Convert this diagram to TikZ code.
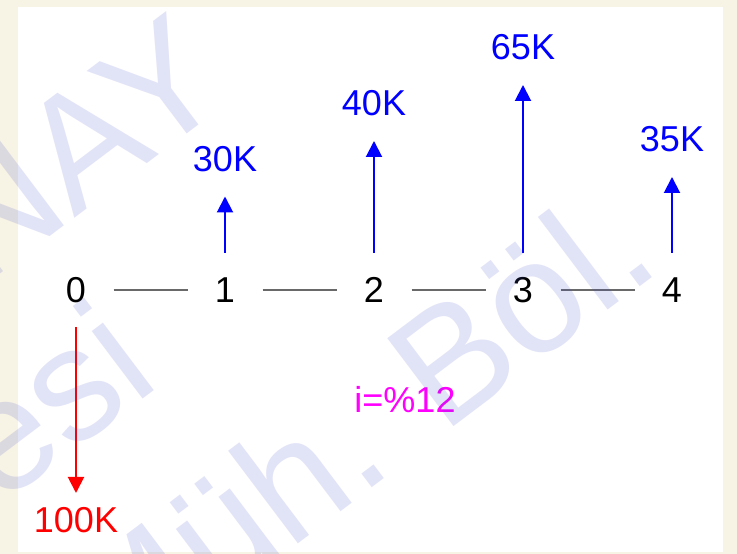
\documentclass[tikz,border=0pt]{standalone}
\usepackage{fontspec}
\setmainfont{Liberation Sans}
\usetikzlibrary{arrows.meta, positioning}
\definecolor{cream}{RGB}{247,243,229}
\definecolor{wmblue}{RGB}{60,70,200}
\definecolor{axisgray}{RGB}{105,105,105}
\definecolor{ratepink}{RGB}{255,0,255}
\begin{document}
\begin{tikzpicture}[x=1pt, y=1pt, node distance=149pt,
    tick/.style = {minimum width=75pt, minimum height=74pt, inner sep=0pt, outer sep=0pt, font=\fontsize{36}{40}\selectfont},
    cash/.style = {inner sep=0pt, outer sep=0pt, font=\fontsize{36}{40}\selectfont},
    inflow/.style = {draw=blue, line width=2pt, -{Triangle[width=16pt, length=16pt]}, shorten >=25pt},
    outflow/.style = {draw=red, line width=2pt, -{Triangle[width=16pt, length=16pt]}, shorten >=14.5pt},
    wmark/.style = {inner sep=0pt, anchor=base west, rotate=37, text=wmblue, text opacity=0.15, font=\fontsize{160}{160}\selectfont}]
  \useasboundingbox (0,0) rectangle (737,554);
  \fill[cream] (0,0) rectangle (737,554);
  \fill[white] (18,2) rectangle (723,547);
  % time axis
  \node[tick] (t0) at (76,264) {0}; \node[tick] (t1) [right of=t0] {1}; \node[tick] (t2) [right of=t1] {2};
  \node[tick] (t3) [right of=t2] {3}; \node[tick] (t4) [right of=t3] {4};
  \draw[axisgray, line width=1.5pt] (t0.east)--(t1.west); \draw[axisgray, line width=1.5pt] (t1.east)--(t2.west);
  \draw[axisgray, line width=1.5pt] (t2.east)--(t3.west); \draw[axisgray, line width=1.5pt] (t3.east)--(t4.west);
  % cash flows
  \begin{scope}[every node/.style={cash, text=blue}]
    \node (c1) [above=81.5pt of t1] {30K}; \node (c2) [above=137pt of t2] {40K};
    \node (c3) [above=193pt of t3] {65K}; \node (c4) [above=101pt of t4] {35K};
  \end{scope}
  \node[cash, text=red] (c0) [below=180.5pt of t0] {100K};
  \draw[inflow] (t1)--(c1); \draw[inflow] (t2)--(c2); \draw[inflow] (t3)--(c3); \draw[inflow] (t4)--(c4);
  \draw[outflow] (t0)--(c0);
  \node[cash, text=ratepink] (rate) at (405,154) {i=\%12};
  % watermark
  \node[wmark] (w1) at (-18,266) {NAY};
  \node[wmark] (w2) at (-1,47) {esi};
  \node[wmark] (w3) at (112,-130) {Müh. Böl.};
\end{tikzpicture}
\end{document}
